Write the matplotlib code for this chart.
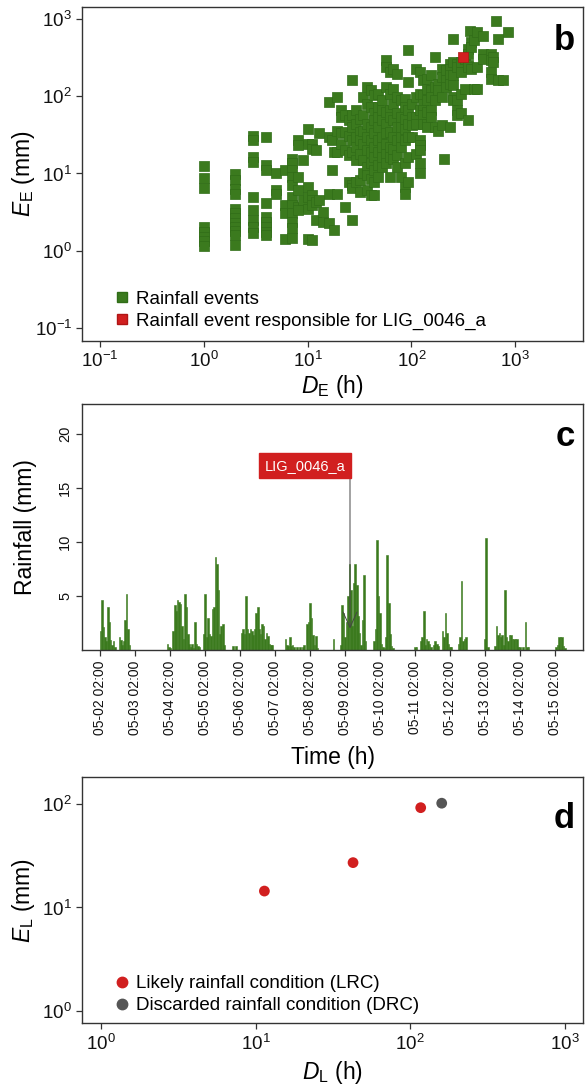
import numpy as np
import matplotlib
matplotlib.use('Agg')
import matplotlib.pyplot as plt
import matplotlib.dates as mdates
from matplotlib.lines import Line2D
from matplotlib.ticker import FixedLocator, NullLocator, LogFormatterSciNotation

plt.rcParams['font.family'] = ['Liberation Sans', 'DejaVu Sans']
plt.rcParams['mathtext.fontset'] = 'custom'
plt.rcParams['mathtext.rm'] = 'Liberation Sans'
plt.rcParams['mathtext.it'] = 'Liberation Sans:italic'
plt.rcParams['mathtext.bf'] = 'Liberation Sans:bold'

# ---------------- Panel b: rainfall events (duration D_E [h], cumulated E_E [mm]) ----
event_duration = (
    [1] * 8 + [2] * 12 + [3] * 9 + [4] * 9 + [5] * 3 + [6] * 4 + [7] * 11 + [8] * 6 +
    [9] * 2 + [10] * 6 + [11] * 6 + [12] * 3 + [13] * 2 + [14] * 2 + [16] * 4 + [17] * 2 +
    [18] * 2 + [19] * 4 + [21] * 4 + [23] * 4 + [25] * 4 + [27] * 8 + [29] * 6 + [32] * 6 +
    [34] * 6 + [37] * 8 + [41] * 8 + [44] * 9 + [48] * 8 + [52] * 7 + [57] * 9 + [62] * 8 +
    [67] * 7 + [73] * 7 + [79] * 6 + [86] * 8 + [93] * 7 + [101] * 4 + [110] * 5 + [120] * 8 +
    [130] * 6 + [141] * 6 + [154] * 5 + [167] * 4 + [181] * 3 + [197] * 4 + [206] * 1 +
    [214] * 3 + [233] * 5 + [253] * 6 + [275] * 5 + [299] * 4 + [325] * 2 + [353] * 5 +
    [368] * 1 + [377] * 3 + [400] * 2 + [428] * 3 + [492] * 3 + [582] * 4 + [606] * 2 +
    [659] * 1 + [687] * 2 + [759] * 1 + [860] * 1
)
event_depth = [
    12.6, 8.8, 6.4, 2.04, 1.76, 1.52, 1.35, 1.16,
    9.8, 8.2, 6.2, 5.4, 3.5, 3.04, 2.62, 2.3, 2.04, 1.81, 1.6, 1.18,
    31, 27, 16.4, 14.2, 5.0, 3.36, 2.5, 2.04, 1.68,
    30, 12.8, 11.0, 4.1, 2.75, 2.37, 2.04, 1.76, 1.6,
    10.0, 6.1, 5.5,
    11.0, 3.9, 3.04, 1.40,
    15.6, 13.5, 11.0, 9.1, 7.1, 5.0, 3.9, 3.04, 2.37, 1.94, 1.44,
    27, 23.2, 9.1, 6.1, 3.7, 3.36,
    4.5, 14.9,
    38, 24.4, 6.7, 5.0, 3.5, 1.40,
    24.4, 21.0, 5.2, 4.5, 3.9, 1.37,
    20.0, 4.3, 2.5,
    33, 4.5,
    3.2, 2.37,
    85, 30, 5.5, 2.25,
    27, 11.0,
    19.1, 1.85,
    98, 36, 19.1, 5.5,
    66, 54, 33, 24.4,
    57, 35, 20.0, 3.7,
    49, 31, 17.3, 7.8,
    161, 57, 40, 27, 19.1, 7.1, 6.4, 2.5,
    66, 44, 30, 22.1, 14.9, 7.8,
    51, 35, 27, 18.1, 8.2, 5.8,
    98, 57, 36, 24.4, 14.9, 10.0,
    132, 80, 44, 30, 20.0, 12.2, 9.5, 6.1,
    120, 73, 40, 27, 19.1, 13.5, 8.6, 5.2,
    103, 60, 49, 33, 22.1, 16.4, 11.0, 7.8, 5.2,
    108, 73, 54, 40, 27, 19.1, 12.8, 9.1,
    89, 66, 49, 30, 22.1, 16.4, 12.2,
    292, 239, 132, 63, 44, 33, 24.4, 18.1, 13.5,
    206, 108, 66, 54, 35, 22.1, 16.4, 9.1,
    228, 126, 80, 49, 30, 21.0, 15.6,
    196, 98, 60, 40, 27, 17.3, 12.2,
    89, 54, 40, 30, 22.1, 9.1,
    93, 73, 51, 38, 27, 13.5, 6.7, 5.5,
    393, 153, 66, 44, 30, 16.4, 7.8,
    80, 54, 42, 30,
    228, 98, 54, 44, 18.1,
    206, 108, 66, 27, 23.2, 20.0, 13.5, 10.0,
    161, 103, 80, 66, 57, 44,
    169, 126, 89, 63, 44, 40,
    187, 120, 98, 66, 54,
    323, 132, 89, 40,
    146, 120, 36,
    228, 178, 98, 42,
    15.6,
    217, 161, 132,
    264, 228, 187, 146, 40,
    557, 278, 187, 139, 98, 89,
    264, 239, 89, 66, 57,
    278, 206, 108, 60,
    307, 126,
    413, 356, 252, 239, 49,
    700,
    504, 435, 228,
    530, 126,
    679, 239, 126,
    597, 356, 307,
    356, 292, 206, 169,
    323, 278,
    961,
    557, 161,
    161,
    679,
]
trigger_duration = [316]
trigger_depth = [320]

# ---------------- Panel c: hourly rainfall (hours after 05-02 02:00, mm) ----------------
rain_hour = [
    0, 1, 2, 3, 4, 5, 6, 7, 8, 9, 10,
    13, 14, 15, 16, 17, 18, 19, 20,
    46, 47, 48, 50, 51, 52, 53, 54, 55, 56, 57, 58, 59, 60, 61, 62, 63, 64, 65, 66, 67, 68,
    71, 72, 73, 74, 75, 76, 77, 78, 79, 80, 81, 82, 83, 84, 85,
    91, 93,
    97, 98, 99, 100, 101, 102, 103, 104, 105, 106, 107, 108, 109, 110, 111, 112, 113, 114,
    115, 116, 117, 118,
    127, 128, 129, 130, 131, 132, 133, 135, 137,
    139, 140, 142, 143, 144, 145, 146, 147, 148, 149,
    160,
    165, 166, 167, 168, 169, 170, 171, 172, 173, 174, 175, 176, 177, 178, 179, 180, 181, 182,
    188, 189, 190, 191, 192, 193, 194, 195, 196, 197, 198, 199, 200, 201,
    216, 217, 220, 221, 222, 223, 224, 225, 226, 227, 229, 230, 231, 232,
    235, 236, 237, 238, 239, 240, 241, 246, 247, 248, 249, 250, 251,
    264, 265, 266,
    271, 272, 273, 274, 275, 276, 277, 278, 279, 280, 281, 282, 283, 284, 285, 286, 287, 288,
    290, 292, 293, 294,
    313, 314, 315, 316, 317, 318, 319,
]
rain_mm = [
    1.8, 4.6, 2.1, 1.2, 0.8, 4.0, 2.6, 0.9, 0.5, 0.8, 0.3,
    1.2, 0.9, 0.5, 0.8, 2.8, 5.2, 2.0, 0.5,
    0.6, 0.3, 0.2, 1.8, 4.2, 3.6, 4.6, 4.5, 4.3, 2.2, 1.0, 5.2, 4.0, 1.5, 0.6, 0.3, 0.6, 0.2,
    2.6, 0.6, 0.4, 0.3,
    1.5, 5.2, 1.2, 3.0, 1.5, 1.3, 3.8, 4.0, 8.6, 8.0, 5.6, 1.5, 2.2, 2.4, 0.5,
    0.4, 0.4,
    1.6, 2.0, 1.5, 5.0, 2.0, 1.6, 2.0, 1.8, 1.4, 2.0, 3.4, 4.0, 2.0, 1.5, 2.4, 2.2, 1.0, 1.6,
    1.3, 0.6, 0.5, 0.5,
    1.0, 0.5, 0.4, 1.2, 0.4, 0.5, 0.3, 0.3, 0.3,
    0.3, 0.5, 2.4, 2.6, 4.4, 3.0, 1.4, 0.5, 1.3, 0.2,
    1.0,
    0.5, 4.2, 3.4, 1.2, 2.6, 5.0, 8.0, 5.6, 2.2, 6.2, 8.0, 6.0, 3.2, 1.6, 0.5, 2.8, 7.0, 0.8,
    0.8, 2.0, 10.2, 5.0, 3.4, 0.6, 0.3, 0.2, 1.2, 8.8, 4.4, 1.5, 0.4, 0.2,
    0.3, 0.3, 0.8, 1.2, 3.6, 0.5, 1.0, 0.8, 0.6, 0.3, 0.5, 0.8, 0.6, 0.4,
    1.8, 1.2, 3.4, 1.6, 0.6, 0.3, 0.3, 0.6, 1.2, 6.4, 0.8, 1.0, 1.2,
    1.0, 10.4, 0.3,
    0.4, 2.2, 1.4, 1.6, 1.2, 1.4, 0.5, 5.6, 1.2, 0.8, 1.4, 1.4, 1.0, 1.0, 1.0, 1.0, 0.3, 0.3,
    0.3, 2.6, 0.3, 0.3,
    0.3, 0.5, 1.2, 1.2, 1.2, 0.4, 0.2,
]
series_start = '2021-05-02 02:00'
n_days = 14
landslide_label = 'LIG_0046_a'
landslide_hour = 171.4
landslide_mark_mm = 2.0
label_level_mm = 17.1

# ---------------- Panel d: rainfall conditions ----------------
lrc_duration = [11.4, 42.7, 117]
lrc_depth = [14.4, 27.1, 92]
drc_duration = [160]
drc_depth = [101.6]

GREEN = '#3b7a1e'
GREEN_EDGE = '#306d17'
RED = '#d11f1f'
GREY = '#555555'
SPINE = '#333333'

fig = plt.figure(figsize=(5.85, 10.89), dpi=100)

L, W = 0.141, 0.855
TICK_FS = 13.5
LABEL_FS = 16.5
LEG_FS = 13.5


def style_axes(ax):
    for s in ax.spines.values():
        s.set_color(SPINE)
        s.set_linewidth(1.0)
    ax.tick_params(axis='both', which='major', direction='out', length=4.5, width=0.9,
                   color=SPINE, labelcolor='#111111', pad=3)
    ax.tick_params(axis='both', which='minor', length=0)


def log_axes(ax, xt, yt):
    ax.set_xscale('log')
    ax.set_yscale('log')
    ax.xaxis.set_major_locator(FixedLocator(xt))
    ax.yaxis.set_major_locator(FixedLocator(yt))
    ax.xaxis.set_minor_locator(NullLocator())
    ax.yaxis.set_minor_locator(NullLocator())
    ax.xaxis.set_major_formatter(LogFormatterSciNotation())
    ax.yaxis.set_major_formatter(LogFormatterSciNotation())


# ---- b ----
ax1 = fig.add_axes([L, 0.687, W, 0.3067])
ax1.scatter(event_duration, event_depth, marker='s', s=58, c=GREEN,
            edgecolors=GREEN_EDGE, linewidths=0.5, zorder=3)
ax1.scatter(trigger_duration, trigger_depth, marker='s', s=58, c=RED,
            edgecolors='#b01515', linewidths=0.5, zorder=4)
log_axes(ax1, [0.1, 1, 10, 100, 1000], [0.1, 1, 10, 100, 1000])
ax1.set_xlim(10 ** -1.17, 10 ** 3.65)
ax1.set_ylim(10 ** -1.17, 10 ** 3.16)
style_axes(ax1)
ax1.tick_params(labelsize=TICK_FS)
ax1.set_xlabel(r'$D_{\mathrm{E}}$ (h)', fontsize=LABEL_FS, labelpad=1)
ax1.set_ylabel(r'$E_{\mathrm{E}}$ (mm)', fontsize=LABEL_FS)
ax1.yaxis.set_label_coords(-0.09, 0.5)
ax1.text(0.984, 0.95, 'b', transform=ax1.transAxes, ha='right', va='top',
         fontsize=25, fontweight='bold')
h1 = [Line2D([], [], marker='s', ls='', color=GREEN, markeredgecolor=GREEN_EDGE, markersize=7),
      Line2D([], [], marker='s', ls='', color=RED, markeredgecolor='#b01515', markersize=7)]
ax1.legend(h1, ['Rainfall events', 'Rainfall event responsible for ' + landslide_label],
           loc='lower left', bbox_to_anchor=(0.035, 0.0), frameon=False, fontsize=LEG_FS,
           handletextpad=0.2, labelspacing=0.25, borderaxespad=0.2, handlelength=1.1)

# ---- c ----
ax2 = fig.add_axes([L, 0.403, W, 0.226])
t0 = mdates.datestr2num(series_start)
x_rain = t0 + np.array(rain_hour) / 24.0
ax2.bar(x_rain, rain_mm, width=1.15 / 24.0, color=GREEN, edgecolor=GREEN, linewidth=0.4,
        zorder=2)
ax2.set_xlim(t0 - 0.514, t0 + 13.80)
ax2.set_ylim(0, 22.8)
ax2.set_yticks([5, 10, 15, 20])
ax2.set_xticks(t0 + np.arange(n_days))
ax2.xaxis.set_major_formatter(mdates.DateFormatter('%m-%d %H:%M'))
style_axes(ax2)
ax2.tick_params(axis='x', labelrotation=90, labelsize=10)
ax2.tick_params(axis='y', labelsize=10.5)
for lab in ax2.get_yticklabels():
    lab.set_rotation(90)
    lab.set_va('center')
ax2.set_xlabel('Time (h)', fontsize=LABEL_FS, labelpad=8)
ax2.set_ylabel('Rainfall (mm)', fontsize=LABEL_FS)
ax2.yaxis.set_label_coords(-0.09, 0.5)
ax2.text(0.984, 0.935, 'c', transform=ax2.transAxes, ha='right', va='top',
         fontsize=25, fontweight='bold')
x_ls = t0 + landslide_hour / 24.0
ax2.annotate('', xy=(x_ls, landslide_mark_mm), xytext=(x_ls, label_level_mm),
             arrowprops=dict(arrowstyle='->,head_length=1.1,head_width=0.5', color='#444444',
                             lw=0.7, shrinkA=0, shrinkB=0), zorder=5)
ax2.text(x_ls - 0.14, label_level_mm, landslide_label, ha='right', va='center', color='white',
         fontsize=10.5, zorder=6,
         bbox=dict(boxstyle='square,pad=0.4', facecolor=RED, edgecolor=RED))

# ---- d ----
ax3 = fig.add_axes([L, 0.0606, W, 0.2259])
ax3.scatter(lrc_duration, lrc_depth, s=60, c=RED, edgecolors='none', zorder=3)
ax3.scatter(drc_duration, drc_depth, s=60, c=GREY, edgecolors='none', zorder=3)
log_axes(ax3, [1, 10, 100, 1000], [1, 10, 100])
ax3.set_xlim(10 ** -0.12, 10 ** 3.116)
ax3.set_ylim(10 ** -0.116, 10 ** 2.26)
style_axes(ax3)
ax3.tick_params(labelsize=TICK_FS)
ax3.set_xlabel(r'$D_{\mathrm{L}}$ (h)', fontsize=LABEL_FS, labelpad=4)
ax3.set_ylabel(r'$E_{\mathrm{L}}$ (mm)', fontsize=LABEL_FS)
ax3.yaxis.set_label_coords(-0.09, 0.5)
ax3.text(0.984, 0.9, 'd', transform=ax3.transAxes, ha='right', va='top',
         fontsize=25, fontweight='bold')
h3 = [Line2D([], [], marker='o', ls='', color=RED, markersize=7.5),
      Line2D([], [], marker='o', ls='', color=GREY, markersize=7.5)]
ax3.legend(h3, ['Likely rainfall condition (LRC)', 'Discarded rainfall condition (DRC)'],
           loc='lower left', bbox_to_anchor=(0.035, -0.01), frameon=False, fontsize=LEG_FS,
           handletextpad=0.2, labelspacing=0.25, borderaxespad=0.2, handlelength=1.1)

fig.savefig('out.png', dpi=100)
